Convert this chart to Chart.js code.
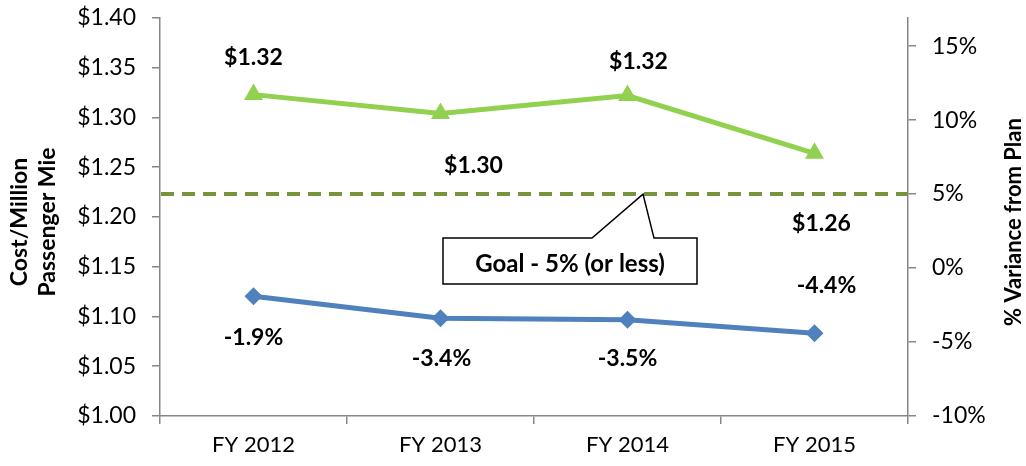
<!DOCTYPE html>
<html>
<head>
<meta charset="utf-8">
<script src="https://cdn.jsdelivr.net/npm/chart.js@4/dist/chart.umd.min.js"></script>
<style>
  html, body { margin: 0; padding: 0; background: #fff; }
  #wrap { width: 1026px; height: 466px; position: relative; }
</style>
</head>
<body>
<div id="wrap"><canvas id="c" width="1026" height="466"></canvas></div>
<script>
const categories = ['FY 2012', 'FY 2013', 'FY 2014', 'FY 2015'];
const costPerMillionPassengerMile = [1.323, 1.304, 1.322, 1.264];
const varianceFromPlan = [-1.9, -3.4, -3.5, -4.4];
const costLabels = ['$1.32', '$1.30', '$1.32', '$1.26'];
const varianceLabels = ['-1.9%', '-3.4%', '-3.5%', '-4.4%'];
const goalValue = 5;
const goalText = 'Goal - 5% (or less)';
const leftTitle = ['Cost/Million', 'Passenger Mie'];
const rightTitle = '% Variance from Plan';

const FONT = 'Lato, "Open Sans", sans-serif';
const AXIS = '#868686';

const labelOffsets = {
  0: [[0, -37], [33, 52], [11, -34], [7, 70]],
  1: [[0, 41], [1, 40], [0, 39], [12, -48]]
};
const labelTexts = { 0: costLabels, 1: varianceLabels };

const overlay = {
  id: 'overlay',
  beforeDatasetsDraw(chart) {
    const ctx = chart.ctx, a = chart.chartArea, y2 = chart.scales.y2;
    const gy = y2.getPixelForValue(goalValue);
    ctx.save();
    ctx.strokeStyle = '#77933C';
    ctx.lineWidth = 4;
    ctx.setLineDash([13, 8]);
    ctx.beginPath();
    ctx.moveTo(a.left + 1, gy);
    ctx.lineTo(a.right, gy);
    ctx.stroke();
    ctx.restore();
  },
  afterDatasetsDraw(chart) {
    const ctx = chart.ctx, a = chart.chartArea, y2 = chart.scales.y2;
    const gy = y2.getPixelForValue(goalValue);
    ctx.save();
    ctx.font = 'bold 23px ' + FONT;
    ctx.fillStyle = '#000';
    ctx.textAlign = 'center';
    ctx.textBaseline = 'middle';
    [0, 1].forEach(di => {
      const meta = chart.getDatasetMeta(di);
      meta.data.forEach((pt, i) => {
        const off = labelOffsets[di][i];
        ctx.fillText(labelTexts[di][i], pt.x + off[0], pt.y + off[1]);
      });
    });
    ctx.restore();

    ctx.save();
    const top = gy + 44, bot = gy + 90, L = 443, R = 697;
    ctx.beginPath();
    ctx.moveTo(L, top);
    ctx.lineTo(592, top);
    ctx.lineTo(643, gy);
    ctx.lineTo(654, top);
    ctx.lineTo(R, top);
    ctx.lineTo(R, bot);
    ctx.lineTo(L, bot);
    ctx.closePath();
    ctx.fillStyle = '#fff';
    ctx.fill();
    ctx.strokeStyle = '#000';
    ctx.lineWidth = 1.5;
    ctx.stroke();
    ctx.font = 'bold 24px ' + FONT;
    ctx.fillStyle = '#000';
    ctx.textAlign = 'center';
    ctx.textBaseline = 'middle';
    ctx.fillText(goalText, (L + R) / 2, (top + bot) / 2 + 3);
    ctx.restore();

    ctx.save();
    ctx.font = 'bold 23px ' + FONT;
    ctx.fillStyle = '#000';
    ctx.textAlign = 'center';
    ctx.textBaseline = 'middle';
    const cy = (a.top + a.bottom) / 2 + 5;
    ctx.translate(20, cy);
    ctx.rotate(-Math.PI / 2);
    ctx.fillText(leftTitle[0], 0, 0);
    ctx.fillText(leftTitle[1], 0, 28);
    ctx.restore();
    ctx.save();
    ctx.font = 'bold 22px ' + FONT;
    ctx.fillStyle = '#000';
    ctx.textAlign = 'center';
    ctx.textBaseline = 'middle';
    ctx.translate(1014, cy);
    ctx.rotate(-Math.PI / 2);
    ctx.fillText(rightTitle, 0, 0);
    ctx.restore();
  }
};

function fixV(w) {
  return function (s) { s.width = w; s.paddingTop = 0; s.paddingBottom = 0; };
}

new Chart(document.getElementById('c'), {
  type: 'line',
  data: {
    labels: categories,
    datasets: [
      {
        label: 'Cost/Million Passenger Mile',
        data: costPerMillionPassengerMile,
        yAxisID: 'y',
        borderColor: '#92D050',
        backgroundColor: '#92D050',
        borderWidth: 5,
        pointStyle: 'triangle',
        pointRadius: 11,
        pointBorderWidth: 0,
        tension: 0
      },
      {
        label: '% Variance from Plan',
        data: varianceFromPlan,
        yAxisID: 'y2',
        borderColor: '#4F81BD',
        backgroundColor: '#4F81BD',
        borderWidth: 5,
        pointStyle: 'rectRot',
        pointRadius: 9,
        pointBorderWidth: 0,
        tension: 0
      }
    ]
  },
  options: {
    responsive: false,
    animation: false,
    events: [],
    layout: { padding: { top: 18, left: 0, right: 0, bottom: 0 } },
    plugins: { legend: { display: false }, tooltip: { enabled: false } },
    scales: {
      x: {
        offset: true,
        grid: { offset: true, drawOnChartArea: false, drawTicks: true, tickLength: 8, color: AXIS, lineWidth: 1.5 },
        border: { color: AXIS, width: 1.5 },
        ticks: { color: '#000', font: { family: FONT, size: 22 }, padding: 8, maxRotation: 0 },
        afterFit(s) { s.height = 50; s.paddingLeft = 0; s.paddingRight = 0; }
      },
      y: {
        position: 'left',
        min: 1, max: 1.4,
        grid: { drawOnChartArea: false, tickLength: 8, color: AXIS, lineWidth: 1.5 },
        border: { color: AXIS, width: 1.5 },
        ticks: {
          stepSize: 0.05, color: '#000', font: { family: FONT, size: 23 }, padding: 16,
          callback: v => '$' + Number(v).toFixed(2)
        },
        afterFit: fixV(160)
      },
      y2: {
        position: 'right',
        min: -10, max: 16.9,
        grid: { drawOnChartArea: false, tickLength: 8, color: AXIS, lineWidth: 1.5 },
        border: { color: AXIS, width: 1.5 },
        ticks: {
          stepSize: 5, color: '#000', font: { family: FONT, size: 23 }, padding: 16,
          callback: v => v + '%'
        },
        afterBuildTicks(s) { s.ticks = s.ticks.filter(t => Math.abs(t.value % 5) < 1e-9); },
        afterFit: fixV(118)
      }
    }
  },
  plugins: [overlay]
});
</script>
</body>
</html>
